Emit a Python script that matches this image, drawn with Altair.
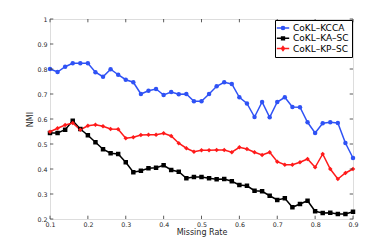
import altair as alt
import pandas as pd

missing_rate = [0.10, 0.12, 0.14, 0.16, 0.18, 0.20, 0.22, 0.24, 0.26, 0.28,
                0.30, 0.32, 0.34, 0.36, 0.38, 0.40, 0.42, 0.44, 0.46, 0.48,
                0.50, 0.52, 0.54, 0.56, 0.58, 0.60, 0.62, 0.64, 0.66, 0.68,
                0.70, 0.72, 0.74, 0.76, 0.78, 0.80, 0.82, 0.84, 0.86, 0.88, 0.90]

kcca = [0.800, 0.788, 0.809, 0.823, 0.823, 0.823, 0.787, 0.769, 0.799, 0.777,
        0.757, 0.747, 0.700, 0.713, 0.720, 0.696, 0.708, 0.699, 0.700, 0.671,
        0.671, 0.700, 0.731, 0.747, 0.740, 0.687, 0.662, 0.608, 0.668, 0.607,
        0.668, 0.687, 0.648, 0.647, 0.587, 0.544, 0.583, 0.587, 0.584, 0.504, 0.444]

ka_sc = [0.544, 0.544, 0.557, 0.593, 0.560, 0.535, 0.507, 0.479, 0.463, 0.460,
         0.427, 0.387, 0.393, 0.403, 0.405, 0.415, 0.396, 0.389, 0.363, 0.368,
         0.368, 0.363, 0.359, 0.360, 0.351, 0.336, 0.333, 0.313, 0.311, 0.293,
         0.276, 0.283, 0.247, 0.260, 0.273, 0.231, 0.224, 0.225, 0.220, 0.220, 0.229]

kp_sc = [0.549, 0.563, 0.576, 0.584, 0.557, 0.573, 0.577, 0.571, 0.560, 0.559,
         0.523, 0.527, 0.536, 0.537, 0.537, 0.543, 0.532, 0.503, 0.483, 0.469,
         0.475, 0.475, 0.476, 0.476, 0.467, 0.487, 0.480, 0.467, 0.456, 0.467,
         0.429, 0.417, 0.417, 0.427, 0.440, 0.407, 0.460, 0.400, 0.360, 0.384, 0.400]

series_names = ["CoKL–KCCA", "CoKL–KA–SC", "CoKL–KP–SC"]
series_colors = ["#2f52f5", "#000000", "#ff1a1a"]
series_shapes = ["circle", "square", "diamond"]
legend_shapes = [
    "M-1.55,0L1.55,0M-0.4,0A0.4,0.4 0 1 1 0.4,0A0.4,0.4 0 1 1 -0.4,0Z",
    "M-1.55,0L1.55,0M-0.35,-0.35L0.35,-0.35L0.35,0.35L-0.35,0.35Z",
    "M-1.55,0L1.55,0M0,-0.5L0.38,0L0,0.5L-0.38,0Z",
]

x_ticks = [0.1, 0.2, 0.3, 0.4, 0.5, 0.6, 0.7, 0.8, 0.9]
y_ticks = [0.2, 0.3, 0.4, 0.5, 0.6, 0.7, 0.8, 0.9, 1.0]

rows = []
for name, vals in zip(series_names, [kcca, ka_sc, kp_sc]):
    for xv, yv in zip(missing_rate, vals):
        rows.append({"rate": xv, "nmi": yv, "method": name})
df = pd.DataFrame(rows)

W, H = 303, 200
FONT = "DejaVu Sans"
TXT = "#262626"

xscale = alt.Scale(domain=[0.1, 0.9], nice=False, zero=False)
yscale = alt.Scale(domain=[0.2, 1.0], nice=False, zero=False)

xaxis = alt.Axis(values=x_ticks, format=".1f", title="Missing Rate",
                 tickSize=0, labelPadding=2, labelFontSize=6.3, titleFontSize=8,
                 titlePadding=1, grid=False, domain=False,
                 labelColor=TXT, titleColor=TXT, labelFont=FONT, titleFont=FONT,
                 titleFontWeight="normal", labelFlush=False)
yaxis = alt.Axis(values=y_ticks, title="NMI",
                 labelExpr="datum.value == 1 ? '1' : format(datum.value, '.1f')",
                 tickSize=0, labelPadding=3, labelFontSize=6.3, titleFontSize=8,
                 titlePadding=2.5, grid=False, domain=False,
                 labelColor=TXT, titleColor=TXT, labelFont=FONT, titleFont=FONT,
                 titleFontWeight="normal", labelFlush=False)

xs = alt.X("rate:Q", scale=xscale, axis=xaxis)
ys = alt.Y("nmi:Q", scale=yscale, axis=yaxis)

color_nolegend = alt.Color("method:N",
                           scale=alt.Scale(domain=series_names, range=series_colors),
                           legend=None)

lines = alt.Chart(df).mark_line(strokeWidth=1.5).encode(x=xs, y=ys, color=color_nolegend)
points = alt.Chart(df).mark_point(filled=True, opacity=1, size=20).encode(
    x=xs, y=ys, color=color_nolegend,
    shape=alt.Shape("method:N", scale=alt.Scale(domain=series_names, range=series_shapes),
                    legend=None))

leg = dict(title=None, orient="top-right", offset=1, padding=3,
           strokeColor="#000000", fillColor="#ffffff",
           labelFontSize=9, labelFont=FONT, labelColor="#000000",
           labelOffset=5, rowPadding=0.3, symbolSize=64,
           symbolStrokeWidth=1.5, symbolOpacity=1)

legend_layer = alt.Chart(df).transform_filter("false").mark_point(
    filled=False, strokeWidth=1.5, size=64, opacity=1).encode(
    x=xs, y=ys,
    color=alt.Color("method:N", scale=alt.Scale(domain=series_names, range=series_colors),
                    legend=alt.Legend(**leg)),
    shape=alt.Shape("method:N", scale=alt.Scale(domain=series_names, range=legend_shapes),
                    legend=alt.Legend(**leg)),
)

xt = pd.DataFrame({"rate": x_ticks})
yt = pd.DataFrame({"nmi": y_ticks})
bt = alt.Chart(xt).mark_rule(color="#333333", strokeWidth=0.8).encode(
    x=xs, y=alt.value(H), y2=alt.value(H - 3.3))
tt = alt.Chart(xt).mark_rule(color="#333333", strokeWidth=0.8).encode(
    x=xs, y=alt.value(0), y2=alt.value(3.3))
lt = alt.Chart(yt).mark_rule(color="#333333", strokeWidth=0.8).encode(
    y=ys, x=alt.value(0), x2=alt.value(3.3))
rt = alt.Chart(yt).mark_rule(color="#333333", strokeWidth=0.8).encode(
    y=ys, x=alt.value(W), x2=alt.value(W - 3.3))

chart = alt.layer(lines, points, bt, tt, lt, rt, legend_layer).resolve_scale(
    color="independent", shape="independent"
).properties(
    width=W, height=H,
    autosize=alt.AutoSizeParams(type="none"),
    padding={"left": 42, "top": 11, "right": 29, "bottom": 20},
).configure_view(stroke="#333333", strokeWidth=1).configure(background="#ffffff")

chart.save("out.html", embed_options={"renderer": "svg", "actions": False})
